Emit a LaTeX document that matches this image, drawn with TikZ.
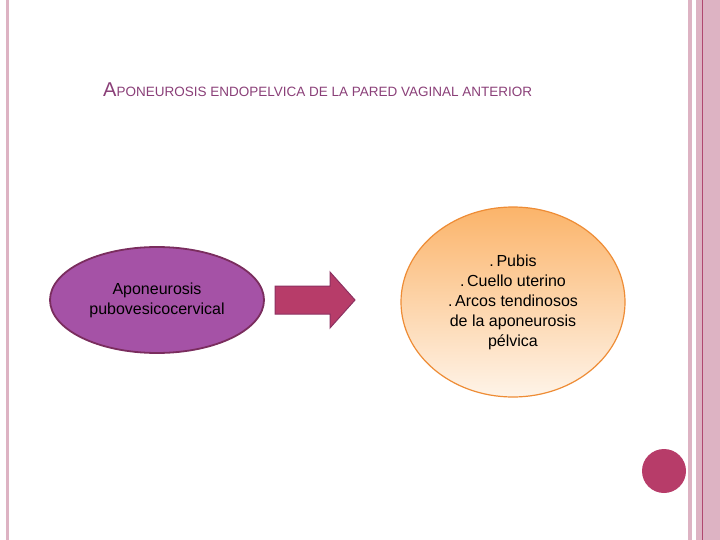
\documentclass[tikz,border=0pt]{standalone}
\usepackage{fontspec}
\setmainfont{Liberation Sans}
\usetikzlibrary{shapes.geometric}
\definecolor{framepink}{HTML}{DDB3C3}
\definecolor{framedark}{HTML}{B0486F}
\definecolor{titlepurple}{HTML}{8A3F78}
\definecolor{leftfill}{HTML}{A552A6}
\definecolor{leftdraw}{HTML}{7A2D5E}
\definecolor{arrowfill}{HTML}{B73C69}
\definecolor{rightfill}{HTML}{FBB46A}
\definecolor{rightdraw}{HTML}{EE8C35}
\tikzset{
  oval/.style={ellipse, inner sep=0pt, align=center, font=\fontsize{16}{20}\selectfont},
}
\begin{document}
\begin{tikzpicture}[x=1pt,y=-1pt]
\useasboundingbox (0,0) rectangle (720,540);
% frame
\fill[framepink] (6,0) rectangle (9,540);
\fill[framepink] (688,0) rectangle (692,540);
\fill[framepink] (696,0) rectangle (720,540);
\fill[framedark] (701.5,0) rectangle (702.5,540);
% title
\node[anchor=west, text=titlepurple, inner sep=0pt] (title) at (103,90)
  {\fontsize{20}{20}\selectfont A\fontsize{13.5}{16}\selectfont PONEUROSIS ENDOPELVICA DE LA PARED VAGINAL ANTERIOR};
% shapes
\node[oval, minimum width=214, minimum height=106, fill=leftfill, draw=leftdraw, line width=1.8pt]
  (fascia) at (157,300) {Aponeurosis\\pubovesicocervical};
\node[oval, minimum width=224, minimum height=190, draw=rightdraw, line width=1.2pt,
  shading=axis, shading angle=-135, top color=rightfill, bottom color=rightfill!15] (ins) at (513,302)
  {.\,Pubis\\.\,Cuello uterino\\.\,Arcos tendinosos\\de la aponeurosis\\pélvica};
\coordinate (tail) at (275,300);
\filldraw[fill=arrowfill, draw=leftdraw!70!arrowfill, line width=1pt]
  (tail) ++(0,-14) -- ++(55,0) -- ++(0,-14) -- (355,300) -- (330,328) -- ++(0,-14) -- ++(-55,0) -- cycle;
\fill[arrowfill] (664,471) circle (22) coordinate (dot);
\end{tikzpicture}
\end{document}
